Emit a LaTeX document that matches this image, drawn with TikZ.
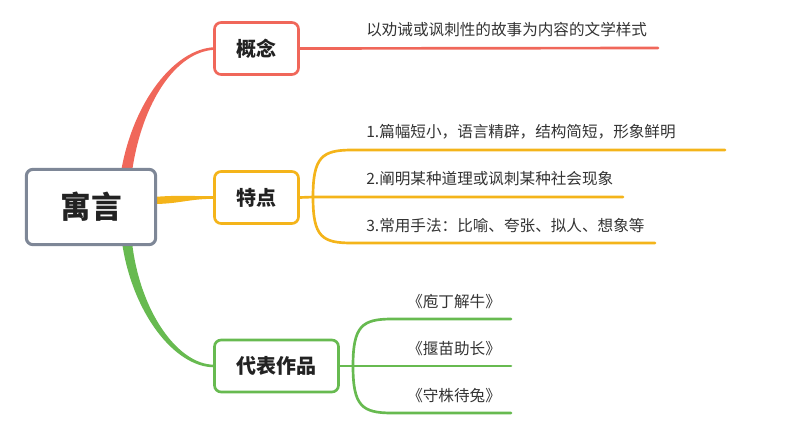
\documentclass[tikz,border=0pt]{standalone}
\usepackage{fontspec}
\setmainfont{Noto Sans CJK SC}
\usetikzlibrary{calc}
\definecolor{cred}{HTML}{F0675A}
\definecolor{cyel}{HTML}{F4B41A}
\definecolor{cgrn}{HTML}{67BA50}
\definecolor{cgry}{HTML}{7E8797}
\definecolor{ctxt}{HTML}{333333}
\definecolor{cnode}{HTML}{222222}
\pgfdeclarelayer{background}
\pgfsetlayers{background,main}
\begin{document}
\begin{tikzpicture}[x=0.75pt,y=-0.75pt,
  rootbox/.style={draw=cgry, line width=2.3pt, rounded corners=5pt, fill=white,
    minimum width=97pt, minimum height=56.5pt, inner sep=0pt,
    font=\fontsize{23pt}{26pt}\selectfont\bfseries, text=cnode},
  topic/.style={line width=2pt, rounded corners=5pt, fill=white,
    minimum height=39pt, inner sep=0pt,
    font=\fontsize{15pt}{18pt}\selectfont\bfseries, text=cnode},
  leaf/.style={anchor=west, inner sep=0pt, text=ctxt,
    font=\fontsize{11.7pt}{14pt}\selectfont},
  branch/.style={line width=2pt, line cap=round}]
\useasboundingbox (0,0) rectangle (794,447);

% nodes
\node[rootbox] (root) at (91,207) {寓言};
\node[topic, draw=cred, minimum width=63pt] (gn) at (256.5,48.5) {概念};
\node[topic, draw=cyel, minimum width=63pt] (tn) at (256.5,197.5) {特点};
\node[topic, draw=cgrn, minimum width=93pt] (dn) at (276.5,366) {代表作品};

% leaf texts
\node[leaf] (g1) at (366,30) {以劝诫或讽刺性的故事为内容的文学样式};
\node[leaf] (t1) at (366,131.5) {1.篇幅短小，语言精辟，结构简短，形象鲜明};
\node[leaf] (t2) at (366,179) {2.阐明某种道理或讽刺某种社会现象};
\node[leaf] (t3) at (366,225.5) {3.常用手法：比喻、夸张、拟人、想象等};
\node[leaf] (d1) at (407,302) {《庖丁解牛》};
\node[leaf] (d2) at (407,349) {《揠苗助长》};
\node[leaf] (d3) at (407,395.5) {《守株待兔》};

% coordinates for line ends
\coordinate (ge) at (658,48);
\coordinate (tb) at (313,197);
\coordinate (t1s) at (352,150);
\coordinate (t1e) at (725,150);
\coordinate (t2e) at (623,197);
\coordinate (t3s) at (352,243);
\coordinate (t3e) at (655,243);
\coordinate (db) at (353,366);
\coordinate (d1s) at (392,319);
\coordinate (d1e) at (511,319);
\coordinate (d2e) at (511,366);
\coordinate (d3s) at (392,413);
\coordinate (d3e) at (511,413);

\begin{pgfonlayer}{background}
% tapered main connectors
\fill[cred] ($(root.north)+(30,4)$) .. controls +(12,-70) and +(-40,2) .. ($(gn.west)+(1,-1.3)$)
  -- ($(gn.west)+(1,1.3)$) .. controls +(-38,2) and +(10,-70) .. ($(root.north)+(41,4)$) -- cycle;
\fill[cyel] ($(root.east)+(-4,-10)$) .. controls +(25,-2) and +(-25,0) .. ($(tn.west)+(1,-1.3)$)
  -- ($(tn.west)+(1,1.3)$) .. controls +(-25,0) and +(25,0) .. ($(root.east)+(-4,-3)$) -- cycle;
\fill[cgrn] ($(root.south)+(31,-4)$) .. controls +(10,70) and +(-40,0) .. ($(dn.west)+(1,1.3)$)
  -- ($(dn.west)+(1,-1.3)$) .. controls +(-36,0) and +(8,70) .. ($(root.south)+(41,-4)$) -- cycle;
\end{pgfonlayer}

% branch lines
\draw[branch, cred] (gn.east) -- (ge);
\draw[branch, cyel] (tn.east) -- (tb) -- (t2e);
\draw[branch, cyel] (tb) .. controls +(0,-40) and +(-30,0) .. (t1s) -- (t1e);
\draw[branch, cyel] (tb) .. controls +(0,40) and +(-30,0) .. (t3s) -- (t3e);
\draw[branch, cgrn] (dn.east) -- (db) -- (d2e);
\draw[branch, cgrn] (db) .. controls +(0,-40) and +(-30,0) .. (d1s) -- (d1e);
\draw[branch, cgrn] (db) .. controls +(0,40) and +(-30,0) .. (d3s) -- (d3e);
\end{tikzpicture}
\end{document}
